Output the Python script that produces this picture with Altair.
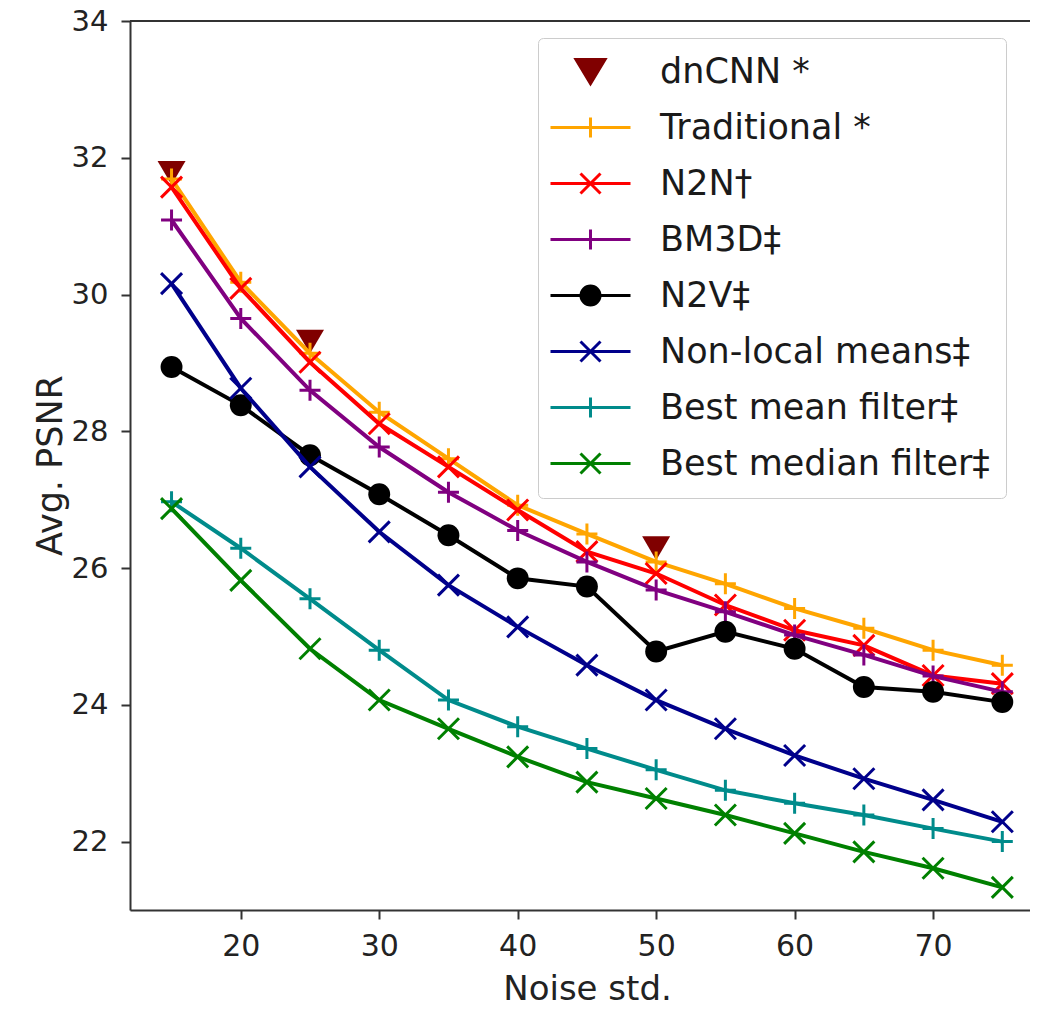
import altair as alt
import pandas as pd

# ---------------- data ----------------
noise = [15, 20, 25, 30, 35, 40, 45, 50, 55, 60, 65, 70, 75]

dncnn_x = [15, 25, 50]
dncnn_y = [31.78, 29.31, 26.29]

traditional = [31.69, 30.18, 29.14, 28.28, 27.60, 26.92, 26.50, 26.09, 25.77, 25.41, 25.12, 24.80, 24.58]
n2n = [31.57, 30.09, 29.01, 28.11, 27.48, 26.85, 26.24, 25.92, 25.46, 25.09, 24.87, 24.43, 24.31]
bm3d = [31.09, 29.65, 28.60, 27.77, 27.11, 26.55, 26.09, 25.68, 25.36, 25.02, 24.73, 24.42, 24.19]
n2v = [28.94, 28.38, 27.65, 27.08, 26.48, 25.85, 25.73, 24.78, 25.07, 24.82, 24.26, 24.19, 24.04]
nlm = [30.16, 28.63, 27.48, 26.53, 25.75, 25.14, 24.58, 24.07, 23.65, 23.26, 22.92, 22.61, 22.29]
mean_filter = [26.97, 26.29, 25.55, 24.80, 24.07, 23.68, 23.36, 23.05, 22.75, 22.56, 22.39, 22.19, 22.00]
median_filter = [26.87, 25.82, 24.82, 24.07, 23.65, 23.24, 22.87, 22.63, 22.39, 22.12, 21.85, 21.61, 21.33]

names = ["dnCNN *", "Traditional *", "N2N\u2020", "BM3D\u2021", "N2V\u2021",
         "Non-local means\u2021", "Best mean filter\u2021", "Best median filter\u2021"]
colors = ["#800000", "#FFA500", "#FF0000", "#800080", "#000000",
          "#00008B", "#008B8B", "#008000"]
markers = ["tri", "plus", "cross", "plus", "circle", "cross", "plus", "cross"]

x_ticks = [20, 30, 40, 50, 60, 70]
y_ticks = [22, 24, 26, 28, 30, 32, 34]
y_top = [34]

# ---------------- marker shapes ----------------
PLOT_SHAPE = {
    "plus": "M-1,0L1,0M0,-1L0,1",
    "cross": "M-1,-1L1,1M-1,1L1,-1",
    "tri": "M-1,-0.85L1,-0.85L0,0.85Z",
    "circle": "circle",
}
LEGEND_SHAPE = {
    "plus": "M-4,0L4,0M0,-1L0,1",
    "cross": "M-4,0L4,0M-1,-1L1,1M-1,1L1,-1",
    "tri": "M-1.45,-1.2L1.45,-1.2L0,1.2Z",
    "circle": "M-4,0L4,0M-0.95,0A0.95,0.95 0 1,0 0.95,0A0.95,0.95 0 1,0 -0.95,0Z",
}

series_vals = [(dncnn_x, dncnn_y)] + [(noise, v) for v in
               [traditional, n2n, bm3d, n2v, nlm, mean_filter, median_filter]]

rows = []
for name, (xs, ys) in zip(names, series_vals):
    for xv, yv in zip(xs, ys):
        rows.append({"series": name, "noise": xv, "psnr": yv})
df = pd.DataFrame(rows)

AX = "#333333"
FONT = "DejaVu Sans"

x_enc = alt.X(
    "noise:Q",
    scale=alt.Scale(domain=[12, 77], nice=False, zero=False),
    axis=alt.Axis(
        values=x_ticks, grid=False, domainColor=AX, domainWidth=2,
        tickColor=AX, tickWidth=2, tickSize=9,
        labelFontSize=30, labelColor="#222222", labelPadding=12, labelFont=FONT,
        title="Noise std.", titleFontSize=34, titleFontWeight="normal",
        titleColor="#222222", titleFont=FONT,
        titleX=457, titleY=89, titleBaseline="alphabetic", titleAlign="center",
    ),
)
y_enc = alt.Y(
    "psnr:Q",
    scale=alt.Scale(domain=[21, 34], nice=False, zero=False),
    axis=alt.Axis(
        values=y_ticks, grid=False, domainColor=AX, domainWidth=2,
        tickColor=AX, tickWidth=2, tickSize=9,
        labelFontSize=29, labelColor="#222222", labelPadding=13, labelFont=FONT,
        title="Avg. PSNR", titleFontSize=35, titleFontWeight="normal",
        titleColor="#222222", titleFont=FONT,
        titleX=-69, titleY=444, titleBaseline="alphabetic", titleAlign="center",
        titleAngle=270,
    ),
)

legend = alt.Legend(
    title=None, orient="none", legendX=408, legendY=17,
    padding=16, rowPadding=20, symbolSize=400, symbolStrokeWidth=3,
    symbolOffset=19, labelOffset=52, labelFontSize=35, labelFont=FONT,
    labelColor="#1a1a1a", labelLimit=800, symbolOpacity=1,
    fillColor="#ffffff", strokeColor="#cccccc", cornerRadius=5,
)

layers = []

# legend carrier (tiny symbols, hidden under the real marks)
legend_layer = alt.Chart(df).mark_point(filled=True, size=1).encode(
    x=x_enc, y=y_enc,
    color=alt.Color("series:N", scale=alt.Scale(domain=names, range=colors), legend=legend),
    stroke=alt.Stroke("series:N", scale=alt.Scale(domain=names, range=colors), legend=legend),
    shape=alt.Shape("series:N", scale=alt.Scale(domain=names,
                    range=[LEGEND_SHAPE[m] for m in markers]), legend=legend),
)
layers.append(legend_layer)

# top spine (drawn at the top of the y domain)
layers.append(
    alt.Chart(pd.DataFrame({"psnr": y_top}))
    .mark_rule(color=AX, strokeWidth=2)
    .encode(y=y_enc)
)

for name, color, mk in zip(names, colors, markers):
    sub = df[df["series"] == name]
    base = alt.Chart(sub).encode(x=x_enc, y=y_enc)
    if mk != "tri":
        layers.append(base.mark_line(color=color, strokeWidth=4))
    if mk == "tri":
        pts = base.mark_point(shape=PLOT_SHAPE[mk], size=784, filled=True,
                              color=color, opacity=1)
    elif mk == "circle":
        pts = base.mark_point(shape="circle", size=480, filled=True,
                              color=color, opacity=1)
    else:
        pts = base.mark_point(shape=PLOT_SHAPE[mk], size=441, filled=False,
                              color=color, strokeWidth=3, opacity=1)
    layers.append(pts)

chart = (
    alt.layer(*layers)
    .properties(
        width=900, height=889,
        padding={"left": 122, "top": 13, "right": 0, "bottom": 96},
        autosize=alt.AutoSizeParams(type="none"),
        background="white",
    )
    .configure_view(stroke=None)
    .configure(font=FONT)
)

chart.save("out.html", embed_options={"renderer": "svg", "actions": False})
